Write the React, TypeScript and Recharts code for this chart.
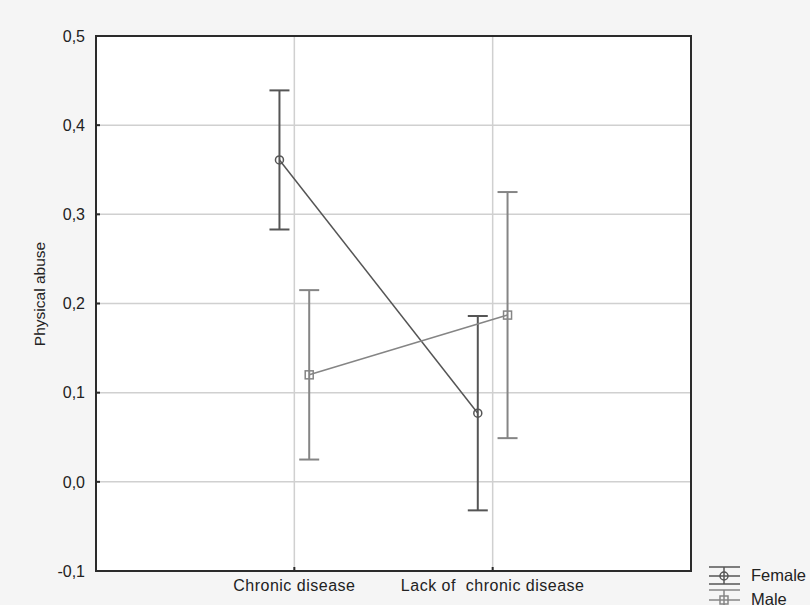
import React from "react";
import {
  CartesianGrid,
  ComposedChart,
  ErrorBar,
  ReferenceArea,
  Scatter,
  XAxis,
  YAxis
} from "recharts";

// groups on the x axis and how far each sex is shifted off the group centre
const categories = ["Chronic disease", "Lack of\u00a0 chronic disease"];
const offset = 0.075;

const femaleMeans = [0.361, 0.077];
const femaleErrors = [0.078, 0.109];
const maleMeans = [0.12, 0.187];
const maleErrors = [0.095, 0.138];

const yTicks = [-0.1, 0, 0.1, 0.2, 0.3, 0.4, 0.5];

const femaleColor = "#555555";
const maleColor = "#858585";
const font = "Liberation Sans, Arial, sans-serif";

const femaleData = categories.map((name, i) => ({
  name,
  x: i + 1 - offset,
  y: femaleMeans[i],
  err: femaleErrors[i]
}));

const maleData = categories.map((name, i) => ({
  name,
  x: i + 1 + offset,
  y: maleMeans[i],
  err: maleErrors[i]
}));

const fmt = (v: number) => v.toFixed(1).replace(".", ",");

const CircleMark = (props: any) => (
  <circle cx={props.cx} cy={props.cy} r={4} fill="none" stroke={femaleColor} strokeWidth={1.5} />
);

const SquareMark = (props: any) => (
  <rect x={props.cx - 4} y={props.cy - 4} width={8} height={8} fill="none" stroke={maleColor} strokeWidth={1.5} />
);

const AxisTitle = () => (
  <text
    x={39}
    y={294}
    transform="rotate(-90, 39, 294)"
    textAnchor="middle"
    dominantBaseline="central"
    fontSize={15.5}
    fill="#222"
    fontFamily={font}
  >
    Physical abuse
  </text>
);

function LegendBox() {
  return (
    <svg width={105} height={45} style={{ position: "absolute", left: 705, top: 562 }}>
      <g stroke={femaleColor} strokeWidth={1.5}>
        <line x1={4} x2={35} y1={5} y2={5} />
        <line x1={4} x2={35} y1={14} y2={14} />
        <line x1={4} x2={35} y1={22} y2={22} />
        <circle cx={19} cy={14} r={4} fill="none" />
        <line x1={19} x2={19} y1={5} y2={22} />
      </g>
      <g stroke={maleColor} strokeWidth={1.5}>
        <line x1={4} x2={35} y1={28} y2={28} />
        <line x1={4} x2={35} y1={38} y2={38} />
        <line x1={4} x2={35} y1={46} y2={46} />
        <rect x={15} y={34} width={8} height={8} fill="none" />
        <line x1={19} x2={19} y1={28} y2={46} />
      </g>
      <text x={46} y={19} fontSize={16.5} fill="#222" fontFamily={font}>Female</text>
      <text x={46} y={43} fontSize={16.5} fill="#222" fontFamily={font}>Male</text>
    </svg>
  );
}

export default function App() {
  return (
    <div
      style={{
        position: "absolute",
        left: 0,
        top: 0,
        width: 810,
        height: 605,
        background: "#f5f5f5",
        overflow: "hidden",
        fontFamily: font
      }}
    >
      <ComposedChart width={810} height={605} margin={{ top: 36, right: 119, bottom: 4, left: 36 }}>
        <CartesianGrid stroke="#d0d0d0" strokeWidth={1.5} fill="#ffffff" fillOpacity={1} />
        <XAxis
          type="number"
          dataKey="x"
          domain={[0, 3]}
          ticks={[1, 2]}
          tickFormatter={(v: number) => categories[v - 1]}
          height={30}
          axisLine={false}
          tickSize={-4}
          tickLine={{ stroke: "#2b2b2b", strokeWidth: 2 }}
          tick={{ fontSize: 16, fill: "#222", letterSpacing: 0.5 }}
          tickMargin={13}
          interval={0}
        />
        <YAxis
          type="number"
          dataKey="y"
          domain={[-0.1, 0.5]}
          ticks={yTicks}
          tickFormatter={fmt}
          width={60}
          axisLine={false}
          tickSize={-4}
          tickLine={{ stroke: "#2b2b2b", strokeWidth: 2 }}
          tick={{ fontSize: 16, fill: "#222" }}
          tickMargin={15}
          label={<AxisTitle />}
        />
        <ReferenceArea x1={0} x2={3} y1={-0.1} y2={0.5} fill="none" stroke="#2b2b2b" strokeWidth={2} />
        <Scatter
          data={femaleData}
          dataKey="y"
          line={{ stroke: femaleColor, strokeWidth: 1.5 }}
          shape={CircleMark}
          isAnimationActive={false}
        >
          <ErrorBar dataKey="err" direction="y" width={10} stroke={femaleColor} strokeWidth={2} isAnimationActive={false} />
        </Scatter>
        <Scatter
          data={maleData}
          dataKey="y"
          line={{ stroke: maleColor, strokeWidth: 1.5 }}
          shape={SquareMark}
          isAnimationActive={false}
        >
          <ErrorBar dataKey="err" direction="y" width={10} stroke={maleColor} strokeWidth={2} isAnimationActive={false} />
        </Scatter>
      </ComposedChart>
      <LegendBox />
    </div>
  );
}
